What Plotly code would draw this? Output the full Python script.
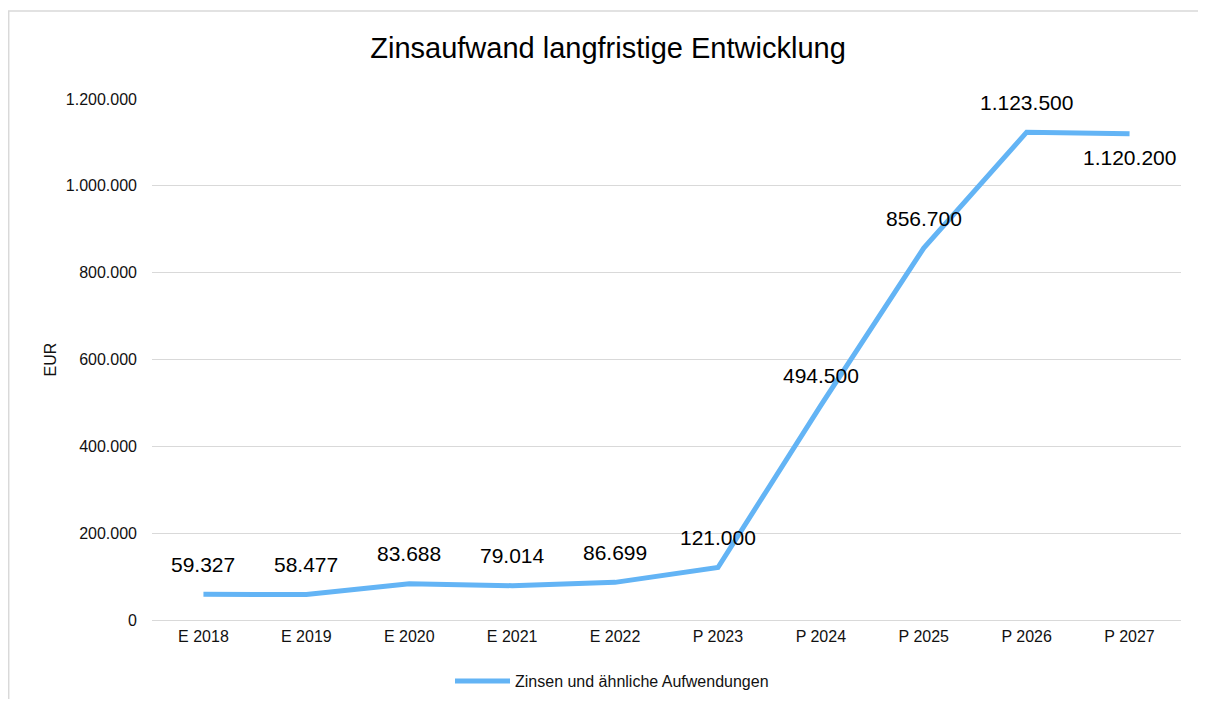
import plotly.graph_objects as go

categories = ["E 2018", "E 2019", "E 2020", "E 2021", "E 2022",
              "P 2023", "P 2024", "P 2025", "P 2026", "P 2027"]
values = [59327, 58477, 83688, 79014, 86699, 121000, 494500, 856700, 1123500, 1120200]
label_below = [False, False, False, False, False, False, False, False, False, True]
series_name = "Zinsen und ähnliche Aufwendungen"
y_tickvals = [0, 200000, 400000, 600000, 800000, 1000000, 1200000]


def de_fmt(v):
    return f"{v:,.0f}".replace(",", ".")


line_color = "rgb(99,180,245)"
font_family = "Liberation Sans, Arial, sans-serif"
text_color = "#111111"

fig = go.Figure()
fig.add_trace(go.Scatter(
    x=categories, y=values, mode="lines", name=series_name,
    line=dict(color=line_color, width=5),
    hoverinfo="skip",
))

annotations = []
for c, v, below in zip(categories, values, label_below):
    annotations.append(dict(
        x=c, y=v, xref="x", yref="y", text=de_fmt(v), showarrow=False,
        yshift=-24 if below else 30,
        font=dict(size=21, color="#000000", family=font_family),
    ))

# page is offset by the 8px body margin
W, H = 1190, 691
L, R, T, B = 144, 17, 91, 79
pw, ph = W - L - R, H - T - B


def px_x(px):
    return (px - L) / pw


def px_y(py):
    return (H - B - py) / ph


border_color = "#d9d9d9"
shapes = [
    dict(type="line", xref="paper", yref="paper",
         x0=px_x(0.7), x1=px_x(0.7), y0=px_y(H), y1=px_y(3),
         line=dict(color=border_color, width=1.5)),
    dict(type="line", xref="paper", yref="paper",
         x0=px_x(0), x1=px_x(W), y0=px_y(3), y1=px_y(3),
         line=dict(color=border_color, width=1.5)),
]

fig.update_layout(
    width=W, height=H,
    margin=dict(l=L, r=R, t=T, b=B, pad=0),
    paper_bgcolor="white", plot_bgcolor="white",
    separators=",.",
    font=dict(family=font_family, size=16, color=text_color),
    title=dict(text="Zinsaufwand langfristige Entwicklung",
               x=600 / W, xanchor="center", xref="container",
               y=1 - 40 / H, yanchor="middle", yref="container",
               font=dict(size=29, color="#000000", family=font_family)),
    showlegend=True,
    legend=dict(orientation="h", x=604 / W, xanchor="center", xref="container",
                y=1 - 673 / H, yanchor="middle", yref="container",
                itemwidth=55,
                font=dict(size=16, color=text_color, family=font_family)),
    annotations=annotations,
    shapes=shapes,
    xaxis=dict(type="category", range=[-0.5, 9.5], showgrid=False,
               showline=False, zeroline=False, ticks="", ticklabelstandoff=5,
               tickfont=dict(size=16, color=text_color)),
    yaxis=dict(range=[0, 1200000], tickvals=y_tickvals, tickformat=",d",
               showgrid=True, gridcolor="#d9d9d9", gridwidth=1.3,
               zeroline=True, zerolinecolor="#d9d9d9", zerolinewidth=1.3,
               showline=False, ticks="", ticklabelstandoff=14,
               tickfont=dict(size=16, color=text_color),
               title=dict(text="EUR", standoff=5,
                          font=dict(size=16, color=text_color))),
)

fig.write_html("out.html")
